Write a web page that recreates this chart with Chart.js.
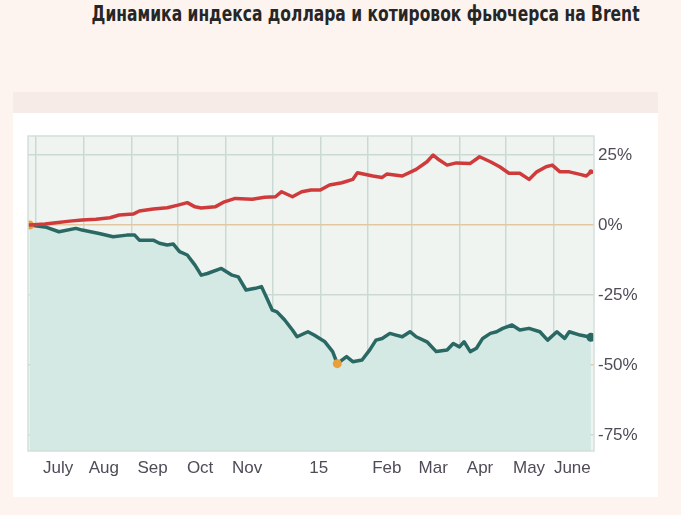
<!DOCTYPE html>
<html>
<head>
<meta charset="utf-8">
<script src="https://cdn.jsdelivr.net/npm/chart.js@4/dist/chart.umd.min.js"></script>
<style>
  html, body { margin: 0; padding: 0; }
  body { width: 681px; height: 515px; background: #fdf4ef; position: relative; overflow: hidden; }
  #title {
    position: absolute; right: 41px; top: 1px; white-space: nowrap;
    font-family: "Liberation Sans Narrow", "DejaVu Sans Condensed", "Roboto", sans-serif;
    font-weight: bold; font-size: 22px; color: #262626; transform-origin: right center;
  }
  #band { position: absolute; left: 13px; top: 92px; width: 645px; height: 21px; background: #f6ebe6; }
  #panel { position: absolute; left: 13px; top: 113px; width: 645px; height: 384px; background: #ffffff; }
</style>
</head>
<body>
<div id="title">Динамика индекса доллара и котировок фьючерса на Brent</div>
<div id="band"></div>
<div id="panel"><canvas id="chart" width="645" height="384"></canvas></div>
<script>
// days counted from 1 July 2014, values in % change
const usdDays = [-4, 6, 13, 22, 30, 39, 48, 54, 63, 67, 76, 85, 92, 98, 103, 107, 116, 122, 129, 140, 148, 155, 159, 166, 172, 178, 184, 190, 198, 205, 208, 218, 224, 227, 237, 246, 253, 257, 261, 266, 272, 281, 287, 294, 300, 306, 313, 319, 324, 330, 334, 339, 345, 352, 356, 359];
const usdValues = [0, 0.4, 0.8, 1.4, 1.8, 2.1, 2.6, 3.6, 3.9, 5.0, 5.7, 6.2, 7.1, 8.0, 6.5, 6.1, 6.5, 8.3, 9.5, 9.2, 9.9, 10.1, 11.9, 10.1, 11.9, 12.5, 12.5, 14.3, 15.1, 16.3, 18.7, 17.5, 17.0, 18.2, 17.5, 19.9, 22.6, 25.0, 23.2, 21.4, 22.2, 22.0, 24.4, 22.6, 20.8, 18.5, 18.5, 16.3, 19.0, 20.8, 21.4, 19.0, 19.0, 18.1, 17.5, 19.0];

const brentDays = [-4, 7, 15, 26, 30, 41, 50, 59, 64, 67, 76, 80, 85, 89, 93, 98, 103, 107, 111, 120, 127, 131, 136, 142, 146, 150, 153, 156, 161, 166, 169, 176, 180, 187, 192, 195, 201, 205, 211, 216, 220, 224, 229, 233, 237, 242, 246, 253, 259, 266, 270, 274, 277, 281, 285, 289, 294, 298, 302, 308, 313, 319, 326, 331, 337, 342, 345, 352, 359];
const brentValues = [0, -0.8, -2.4, -1.2, -1.8, -3.0, -4.2, -3.6, -3.6, -5.4, -5.4, -6.5, -7.1, -6.8, -9.5, -10.7, -14.3, -17.9, -17.3, -15.5, -17.9, -18.5, -23.2, -22.6, -22.0, -26.8, -30.4, -31.0, -33.9, -37.5, -39.9, -38.1, -39.3, -41.7, -45.2, -49.5, -47.0, -48.8, -48.2, -44.6, -41.1, -40.5, -38.7, -39.3, -39.9, -38.1, -39.9, -41.7, -45.2, -44.6, -42.3, -43.5, -41.7, -45.2, -44.0, -40.5, -38.7, -38.1, -36.9, -35.7, -37.5, -36.9, -38.1, -41.1, -38.1, -40.5, -38.1, -39.3, -40.1];

// month starts (grid lines) and label positions
const monthStarts = [0, 31, 62, 92, 123, 153, 184, 215, 243, 274, 304, 335];
const labelDays = [14.5, 44, 75.6, 106.3, 136.7, 183, 227, 257, 287.3, 319, 347];
const labelNames = ["July", "Aug", "Sep", "Oct", "Nov", "15", "Feb", "Mar", "Apr", "May", "June"];
const yTicks = [25, 0, -25, -50, -75];

// fit title width
const title = document.getElementById("title");
const tw = title.getBoundingClientRect().width;
title.style.transform = "scaleX(" + (548 / tw) + ")";

const toXY = (days, vals) => days.map((d, i) => ({ x: d, y: vals[i] }));
const brentMin = brentValues.indexOf(Math.min(...brentValues));

// plot background + border
const plotBg = {
  id: "plotBg",
  beforeDraw(chart) {
    const { ctx, chartArea: a } = chart;
    ctx.save();
    ctx.fillStyle = "#eff4f1";
    ctx.fillRect(a.left, a.top, a.right - a.left, a.bottom - a.top);
    ctx.restore();
  },
  afterDatasetsDraw(chart) {
    const { ctx, chartArea: a } = chart;
    ctx.save();
    ctx.strokeStyle = "#d3dfdb";
    ctx.lineWidth = 1.5;
    ctx.strokeRect(a.left, a.top, a.right - a.left, a.bottom - a.top);
    ctx.restore();
  }
};

new Chart(document.getElementById("chart"), {
  type: "line",
  data: {
    datasets: [
      {
        data: toXY(usdDays, usdValues),
        borderColor: "#cf3b3b",
        borderWidth: 3.5,
        borderJoinStyle: "round",
        borderCapStyle: "round",
        fill: false,
        tension: 0,
        pointRadius: ctx => (ctx.dataIndex === usdDays.length - 1 ? 2.5 : 0),
        pointBackgroundColor: "#cf3b3b",
        pointBorderWidth: 0
      },
      {
        data: toXY(brentDays, brentValues),
        borderColor: "#2a6864",
        borderWidth: 3.5,
        borderJoinStyle: "round",
        borderCapStyle: "round",
        backgroundColor: "#d4e8e4",
        fill: "start",
        tension: 0,
        pointRadius: ctx => (ctx.dataIndex === 0 || ctx.dataIndex === brentMin || ctx.dataIndex === brentDays.length - 1 ? 4.5 : 0),
        pointBackgroundColor: ctx => (ctx.dataIndex === brentDays.length - 1 ? "#2a6864" : "#e9a03a"),
        pointBorderWidth: 0
      }
    ]
  },
  options: {
    responsive: false,
    animation: false,
    layout: { padding: { left: 15, top: 23, right: 0, bottom: 0 } },
    plugins: { legend: { display: false }, tooltip: { enabled: false } },
    scales: {
      x: {
        type: "linear",
        min: -5,
        max: 361,
        afterBuildTicks: scale => {
          scale.ticks = monthStarts.concat(labelDays).map(v => ({ value: v }));
        },
        afterFit: scale => { scale.height = 46; },
        grid: {
          drawTicks: false,
          lineWidth: 1.5,
          color: ctx => (ctx.tick && monthStarts.includes(ctx.tick.value) ? "#cbd9d5" : "rgba(0,0,0,0)")
        },
        border: { display: false },
        ticks: {
          autoSkip: false,
          maxRotation: 0,
          padding: 7,
          color: "#4f4b57",
          font: { family: "Liberation Sans, Arial, sans-serif", size: 17 },
          callback: v => {
            const i = labelDays.indexOf(v);
            return i >= 0 ? labelNames[i] : "";
          }
        }
      },
      y: {
        position: "right",
        min: -80.7,
        max: 31.8,
        afterBuildTicks: scale => {
          scale.ticks = yTicks.map(v => ({ value: v }));
        },
        afterFit: scale => { scale.width = 64; },
        grid: {
          drawTicks: false,
          lineWidth: 1.5,
          color: ctx => (ctx.tick && (ctx.tick.value === 0 || ctx.tick.value === -50) ? "#e3c7a0" : "#cbd9d5")
        },
        border: { display: false },
        ticks: {
          padding: 4,
          color: "#4f4b57",
          font: { family: "Liberation Sans, Arial, sans-serif", size: 17 },
          callback: v => v + "%"
        }
      }
    }
  },
  plugins: [plotBg]
});
</script>
</body>
</html>
